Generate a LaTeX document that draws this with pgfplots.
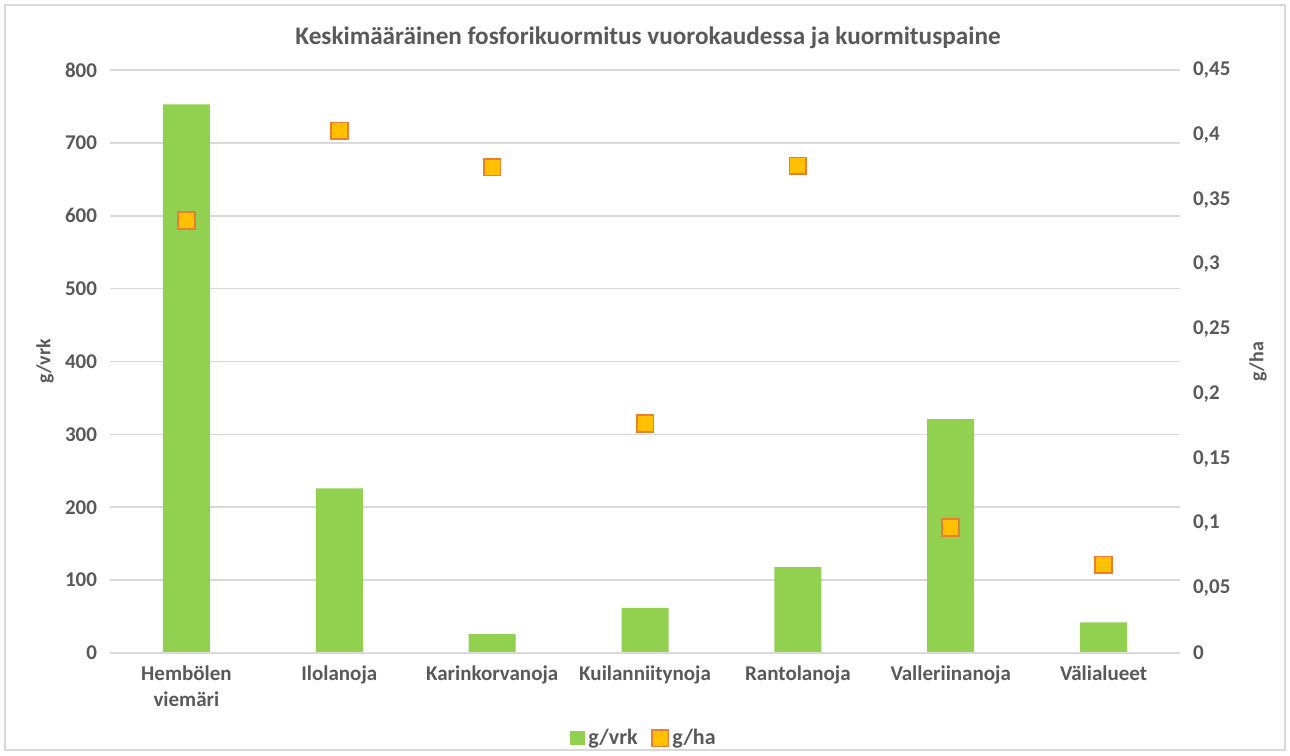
\documentclass[border=0pt]{standalone}
\usepackage{pgfplots}
\pgfplotsset{compat=1.18}
\usepackage{fontspec}
\setmainfont{Carlito}
\definecolor{bargreen}{HTML}{92D050}
\definecolor{mkfill}{HTML}{FFC000}
\definecolor{mkdraw}{HTML}{ED7D31}
\definecolor{gridc}{HTML}{D9D9D9}
\definecolor{txt}{HTML}{595959}

\pgfplotsset{
  common/.style={
    scale only axis, width=535pt, height=291.5pt,
    at={(55pt,51pt)}, anchor=south west,
    xmin=-0.5, xmax=6.5,
    axis line style={draw=none},
    tick style={draw=none},
    ticklabel style={font=\fontsize{10.5}{13}\selectfont\bfseries, text=txt},
    /pgf/number format/assume math mode=true,
  }
}

\begin{document}
\begin{tikzpicture}[x=1pt,y=1pt]
\path (0,0) rectangle (645,377.5);
\draw[gridc, line width=0.8pt] (2.5,2.5) rectangle (642.5,375);

\begin{axis}[common,
    ymin=0, ymax=800, ytick={0,100,...,800},
    ymajorgrids, grid style={gridc, line width=0.8pt},
    xtick={0,...,6},
    xticklabels={{Hembölen\\viemäri},Ilolanoja,Karinkorvanoja,Kuilanniitynoja,Rantolanoja,Valleriinanoja,Välialueet},
    xticklabel style={align=center, yshift=-3pt},
    yticklabel style={xshift=-3pt},
    ylabel={g/vrk}, ylabel style={font=\fontsize{10}{12}\selectfont\bfseries, text=txt, at={(axis description cs:0,0.5)}, yshift=32.5pt, anchor=center},
]
\addplot[ybar, bar width=23.5pt, fill=bargreen, draw=none] coordinates {
  (0,753) (1,226) (2,26) (3,62) (4,118) (5,321) (6,42)
};
\draw[gridc, line width=0.8pt] (axis cs:-0.5,0) -- (axis cs:6.5,0);
\end{axis}

\begin{axis}[common,
    axis y line*=right, axis x line=none,
    ymin=0, ymax=0.45, ytick={0,0.05,0.1,0.15,0.2,0.25,0.3,0.35,0.4,0.45},
    scaled y ticks=false,
    yticklabel style={/pgf/number format/.cd, fixed, use comma, precision=2, /tikz/.cd, xshift=3pt},
    ylabel={g/ha}, ylabel style={font=\fontsize{10}{12}\selectfont\bfseries, text=txt, at={(axis description cs:1,0.5)}, yshift=-39pt, anchor=center},
    legend style={at={(0.5,-0.146)}, anchor=center, draw=none, fill=none,
      legend columns=2, font=\fontsize{11}{13}\selectfont\bfseries, text=txt,
      /tikz/every even column/.append style={column sep=5pt}},
    legend cell align=left,
]
\addlegendimage{legend image code/.code={\fill[bargreen] (2pt,-3.3pt) rectangle (8.6pt,3.3pt);}}
\addlegendentry{g/vrk}
\addplot[only marks, mark=square*, mark size=4.2pt, mark options={fill=mkfill, draw=mkdraw, line width=0.9pt}] coordinates {
  (0,0.334) (1,0.403) (2,0.375) (3,0.177) (4,0.376) (5,0.097) (6,0.068)
};
\addlegendentry{g/ha}
\end{axis}

\node[font=\fontsize{12.6}{15}\selectfont\bfseries, text=txt] at (324,358.5) {Keskimääräinen fosforikuormitus vuorokaudessa ja kuormituspaine};
\end{tikzpicture}
\end{document}
